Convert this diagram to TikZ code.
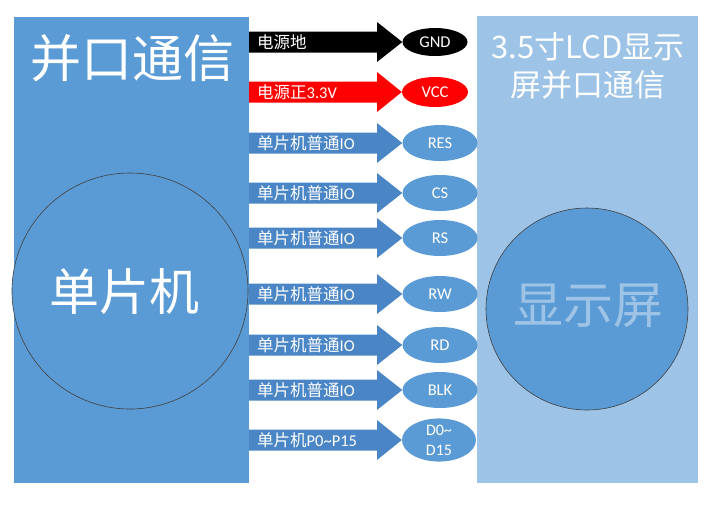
\documentclass[tikz,border=0pt]{standalone}
\usepackage{fontspec}
\setmainfont{Carlito}
\newfontfamily\cjk{Noto Sans CJK SC}
\usetikzlibrary{shapes.geometric}
\definecolor{mainblue}{HTML}{5B9BD5}
\definecolor{lightblue}{HTML}{9DC3E6}
\definecolor{arrowblue}{HTML}{4A86C6}
\definecolor{vccred}{HTML}{FF0000}
\tikzset{
  panel/.style={rectangle, inner sep=0, outer sep=0, draw=none, anchor=north west},
  bigcircle/.style={circle, draw=black!75, line width=0.6pt, fill=mainblue, inner sep=0},
  pin/.style={ellipse, inner sep=0, text=white, font=\fontsize{16.5}{17}\selectfont, align=center},
  armlabel/.style={anchor=west, text=white, inner sep=0, font=\fontsize{16.5}{17}\selectfont},
}
\newcommand\blockarrow[3]{% #1 target node, #2 y, #3 colour
  \fill[#3] (249,#2-10.5) -- (377,#2-10.5) -- (377,#2-20) -- (#1.west)
    -- (377,#2+20) -- (377,#2+10.5) -- (249,#2+10.5) -- cycle;}
\begin{document}
\begin{tikzpicture}[x=1pt,y=-1pt]
\useasboundingbox (0,0) rectangle (714,512);
\fill[white] (0,0) rectangle (714,512);
% panels
\node[panel, fill=mainblue, minimum width=235, minimum height=466] (mcu) at (14,17) {};
\node[panel, fill=lightblue, minimum width=221, minimum height=467] (lcd) at (477,16) {};
% circles
\node[bigcircle, minimum size=236] (mcuc) at (130,291) {};
\node[bigcircle, minimum width=202, minimum height=198] (lcdc) at (587,309) {};
% titles
\node[text=white, inner sep=0, font=\cjk\fontsize{51}{51}\selectfont] (mcutitle) at (132,58) {并口通信};
\node[text=white, inner sep=0, font=\cjk\fontsize{50}{50}\selectfont] (mcuname) at (124,292) {单片机};
\node[text=lightblue, inner sep=0, font=\cjk\fontsize{50}{50}\selectfont] (lcdname) at (588,306) {显示屏};
\node[text=white, inner sep=0, font=\cjk\fontsize{31}{31}\selectfont] (lcdt1) at (588,47) {3.5寸LCD显示};
\node[text=white, inner sep=0, font=\cjk\fontsize{31}{31}\selectfont] (lcdt2) at (588,85) {屏并口通信};
% pins
\node[pin, fill=black, minimum width=65, minimum height=28] (gnd) at (435,42) {GND};
\node[pin, fill=vccred, minimum width=66, minimum height=30] (vcc) at (435,92) {VCC};
\foreach \n/\y/\t in {res/143/RES, cs/193/CS, rs/238/RS, rw/294/RW, rd/345/RD, blk/390/BLK}{
  \node[pin, fill=mainblue, minimum width=75, minimum height=36] (\n) at (440,\y) {\t};
}
\node[pin, fill=mainblue, minimum width=74, minimum height=36, font=\fontsize{16}{20}\selectfont] (dat) at (439,440) {D0\textasciitilde\\D15};
% arrows
\blockarrow{gnd}{42}{black}
\blockarrow{vcc}{92}{vccred}
\foreach \n/\y in {res/143, cs/193, rs/238, rw/294, rd/345, blk/390, dat/440}{
  \blockarrow{\n}{\y}{arrowblue}
}
% arrow labels
\node[armlabel] (lgnd) at (257,42) {\cjk 电源地};
\node[armlabel] (lvcc) at (257,92) {{\cjk 电源正}3.3V};
\foreach \n/\y in {res/143, cs/193, rs/238, rw/294, rd/345, blk/390}{
  \node[armlabel] (l\n) at (257,\y) {{\cjk 单片机普通}IO};
}
\node[armlabel] (ldat) at (257,440) {{\cjk 单片机}P0\textasciitilde P15};
\end{tikzpicture}
\end{document}
